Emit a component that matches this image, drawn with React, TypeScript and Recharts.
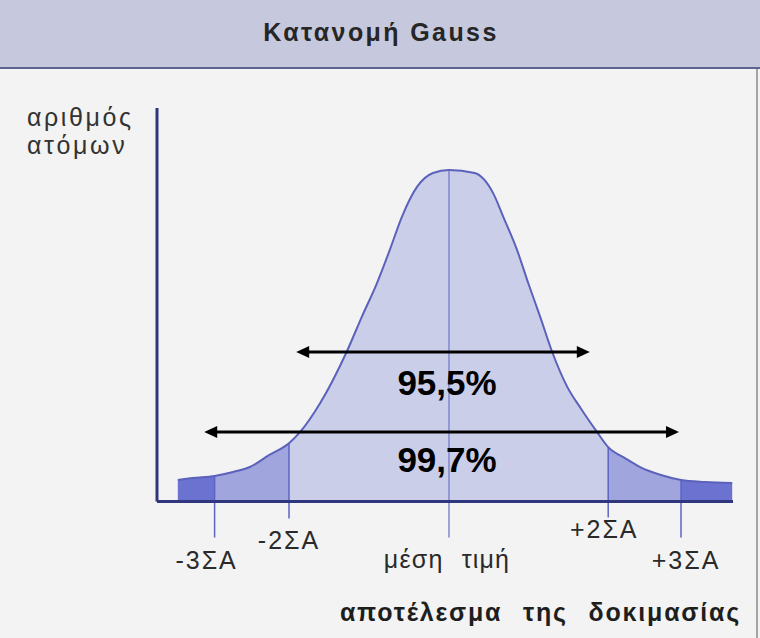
import { ComposedChart, Area, Line, XAxis, YAxis, ReferenceLine, ReferenceDot } from "recharts";

// curve: position in ΣA from the mean, height in % of the peak
const positions = [
  -3.39, -3.2, -2.93, -2.7, -2.49, -2.25, -2.0, -1.86, -1.61, -1.28, -1.09, -0.9, -0.74, -0.59, -0.4, -0.2, 0,
  0.32, 0.55, 0.68, 0.85, 0.99, 1.14, 1.29, 1.48, 1.65, 1.85, 1.99, 2.2, 2.39, 2.65, 2.9, 3.2, 3.54,
];
const heights = [
  6.5, 7.1, 7.7, 8.9, 10.4, 14.0, 17.6, 21.0, 29.7, 45.1, 55.7, 65.9, 75.9, 85.8, 94.9, 99.1, 100,
  99.1, 93.1, 85.8, 75.9, 65.9, 55.7, 45.1, 34.5, 28.0, 21.0, 16.4, 13.1, 10.4, 8.0, 6.5, 5.9, 5.6,
];

// the five marked points under the curve
const markerPositions = [-2.93, -2.0, 0, 1.99, 2.9];
const markerTops = [7.7, 17.6, 100, 16.4, 6.5];
const markerLabels = ["-3ΣA", "-2ΣA", "μέση τιμή", "+2ΣA", "+3ΣA"];

// the two ranges with arrows
const rangeLabels = ["95,5%", "99,7%"];
const rangeFrom = [-1.91, -3.06];
const rangeTo = [1.76, 2.875];
const rangeLevels = [45.1, 21.0];
const rangeLabelLevels = [32.1, 8.9];

const xDomain = [-3.65, 3.55];
const yDomain = [0, 118.7];

const lo3 = markerPositions[0];
const lo2 = markerPositions[1];
const hi2 = markerPositions[3];
const hi3 = markerPositions[4];

const rows = positions.map((x, i) => {
  const h = heights[i];
  return {
    x,
    h,
    center: x >= lo2 && x <= hi2 ? h : null,
    mid: (x >= lo3 && x <= lo2) || (x >= hi2 && x <= hi3) ? h : null,
    outer: x <= lo3 || x >= hi3 ? h : null,
  };
});

// tick length below the axis and label offsets (px)
const tickLen = [36, 17, 36, 16, 36];
const labelDx = [-8, 0, -2, -4, 5];
const labelDy = [31, 30, 30, 20, 31];

const FONT = "'Liberation Sans', Arial, sans-serif";
const AXIS = "#30367e";

function markerShape(i: number) {
  return (p: any) => {
    const x = p.x1;
    const top = Math.min(p.y1, p.y2);
    const axisY = Math.max(p.y1, p.y2);
    const end = axisY + tickLen[i];
    return (
      <g>
        <line x1={x} x2={x} y1={top} y2={end} stroke={i === 2 ? "#7f86cc" : "#5d65c2"} strokeWidth={1.5} />
        <text
          x={x + labelDx[i]}
          y={end + labelDy[i]}
          textAnchor="middle"
          fontFamily={FONT}
          fontSize={25}
          letterSpacing={i === 2 ? 1.2 : 2}
          wordSpacing={i === 2 ? 10 : 0}
          fill="#2a2a2a"
        >
          {markerLabels[i]}
        </text>
      </g>
    );
  };
}

function arrowShape(p: any) {
  const left = Math.min(p.x1, p.x2);
  const right = Math.max(p.x1, p.x2);
  const y = p.y1;
  return (
    <g>
      <line x1={left + 8} x2={right - 8} y1={y} y2={y} stroke="#000" strokeWidth={3} />
      <polygon points={`${left},${y} ${left + 13},${y - 6} ${left + 13},${y + 6}`} fill="#000" />
      <polygon points={`${right},${y} ${right - 13},${y - 6} ${right - 13},${y + 6}`} fill="#000" />
    </g>
  );
}

function percentShape(i: number) {
  return (p: any) => (
    <text x={p.cx - 2} y={p.cy} textAnchor="middle" fontFamily={FONT} fontWeight="bold" fontSize={35} fill="#000">
      {rangeLabels[i]}
    </text>
  );
}

export default function App() {
  return (
    <div style={{ position: "absolute", left: 0, top: 0, width: 760, height: 638, background: "#f2f3f2", overflow: "hidden" }}>
      <div
        style={{
          position: "absolute",
          left: 0,
          top: 0,
          width: 760,
          height: 67,
          background: "#c6c9de",
          borderBottom: "2px solid #5f6390",
        }}
      />
      <div
        style={{
          position: "absolute",
          left: 0,
          top: 20,
          width: 762,
          textAlign: "center",
          fontFamily: FONT,
          fontSize: 25,
          fontWeight: "bold",
          letterSpacing: 2.4,
          lineHeight: 1,
          color: "#262626",
        }}
      >
        Κατανομή Gauss
      </div>
      <div style={{ position: "absolute", left: 756, top: 69, width: 2, height: 569, background: "#a3a3a8" }} />
      <div
        style={{
          position: "absolute",
          left: 27,
          top: 103,
          fontFamily: FONT,
          fontSize: 25,
          lineHeight: "28px",
          letterSpacing: 2.6,
          color: "#333",
        }}
      >
        αριθμός
        <br />
        ατόμων
      </div>
      <div
        style={{
          position: "absolute",
          right: 19,
          top: 600,
          fontFamily: FONT,
          fontSize: 25,
          fontWeight: "bold",
          lineHeight: 1,
          letterSpacing: 1.8,
          wordSpacing: 12,
          color: "#1e1e1e",
          whiteSpace: "nowrap",
        }}
      >
        αποτέλεσμα της δοκιμασίας
      </div>
      <div style={{ position: "absolute", left: 0, top: 0 }}>
        <ComposedChart width={760} height={638} data={rows} margin={{ top: 108, right: 27, bottom: 136.5, left: 157 }}>
          <XAxis type="number" dataKey="x" domain={xDomain} allowDataOverflow tick={false} tickLine={false} axisLine={false} height={0} />
          <YAxis type="number" domain={yDomain} allowDataOverflow tick={false} tickLine={false} axisLine={false} width={0} />
          <Area dataKey="center" type="monotone" stroke="none" fill="#cbcee9" fillOpacity={1} connectNulls={false} isAnimationActive={false} />
          <Area dataKey="mid" type="monotone" stroke="none" fill="#a1a5de" fillOpacity={1} connectNulls={false} isAnimationActive={false} />
          <Area dataKey="outer" type="monotone" stroke="none" fill="#6c72cf" fillOpacity={1} connectNulls={false} isAnimationActive={false} />
          {markerPositions.map((m, i) => (
            <ReferenceLine
              key={markerLabels[i]}
              segment={[
                { x: m, y: markerTops[i] },
                { x: m, y: 0 },
              ]}
              ifOverflow="visible"
              shape={markerShape(i)}
            />
          ))}
          <Line dataKey="h" type="monotone" stroke="#5a62bb" strokeWidth={2} dot={false} activeDot={false} isAnimationActive={false} />
          {/* axes */}
          <ReferenceLine
            segment={[
              { x: xDomain[0], y: yDomain[0] },
              { x: xDomain[0], y: yDomain[1] },
            ]}
            stroke={AXIS}
            strokeWidth={3}
            ifOverflow="visible"
          />
          <ReferenceLine
            segment={[
              { x: xDomain[0], y: yDomain[0] },
              { x: xDomain[1], y: yDomain[0] },
            ]}
            stroke={AXIS}
            strokeWidth={3}
            ifOverflow="visible"
          />
          {rangeLabels.map((r, i) => (
            <ReferenceLine
              key={r}
              segment={[
                { x: rangeFrom[i], y: rangeLevels[i] },
                { x: rangeTo[i], y: rangeLevels[i] },
              ]}
              ifOverflow="visible"
              shape={arrowShape}
            />
          ))}
          {rangeLabels.map((r, i) => (
            <ReferenceDot key={r + "-label"} x={0} y={rangeLabelLevels[i]} r={1} ifOverflow="visible" shape={percentShape(i)} />
          ))}
        </ComposedChart>
      </div>
    </div>
  );
}
